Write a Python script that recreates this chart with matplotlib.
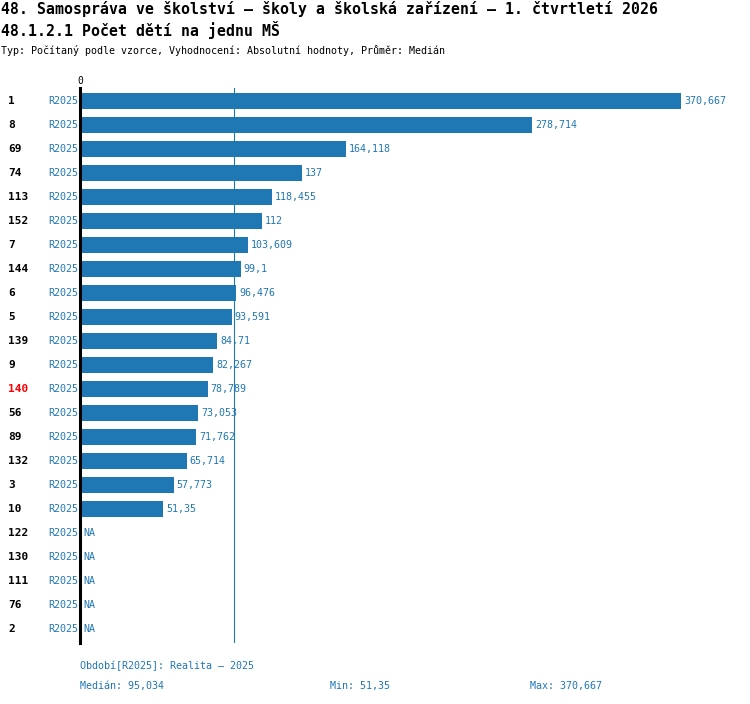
import numpy as np
import matplotlib
matplotlib.use("Agg")
import matplotlib.pyplot as plt
import matplotlib.transforms as mtransforms

ids = ["1", "8", "69", "74", "113", "152", "7", "144", "6", "5", "139", "9", "140",
       "56", "89", "132", "3", "10", "122", "130", "111", "76", "2"]
values = [370.667, 278.714, 164.118, 137, 118.455, 112, 103.609, 99.1, 96.476, 93.591,
          84.71, 82.267, 78.789, 73.053, 71.762, 65.714, 57.773, 51.35,
          None, None, None, None, None]
period = "R2025"
highlight_id = "140"

title1 = "48. Samospráva ve školství – školy a školská zařízení – 1. čtvrtletí 2026"
title2 = "48.1.2.1 Počet dětí na jednu MŠ"
subtitle = "Typ: Počítaný podle vzorce, Vyhodnocení: Absolutní hodnoty, Průměr: Medián"
footer_period = "Období[R2025]: Realita – 2025"

BLUE = "#1f77b4"
FONT = "DejaVu Sans Mono"
W, H = 750, 704

def fmt(v):
    s = f"{v:.3f}".rstrip("0").rstrip(".")
    return s.replace(".", ",")

valid = np.array([v for v in values if v is not None])
median = float(np.median(valid))
vmin = float(valid.min())
vmax = float(valid.max())

fig = plt.figure(figsize=(W / 100, H / 100), dpi=100)
ax_left, ax_right, ax_top, ax_bottom = 80, 730, 88, 643
ax = fig.add_axes([ax_left / W, 1 - ax_bottom / H, (ax_right - ax_left) / W, (ax_bottom - ax_top) / H])

px_per_unit = (681 - 80) / vmax
ax.set_xlim(0, (ax_right - ax_left) / px_per_unit)
row_px = 24
top_off = (101 - ax_top) / row_px
ax.set_ylim(-top_off + (ax_bottom - ax_top) / row_px, -top_off)

n = len(ids)
for i, v in enumerate(values):
    if v is not None:
        ax.barh(i, v, height=16 / row_px, color=BLUE, zorder=2)
        ax.text(v + 3 / px_per_unit, i, fmt(v), color=BLUE, fontsize=7.2,
                family=FONT, va="center", ha="left")
    else:
        ax.text(3 / px_per_unit, i, "NA", color=BLUE, fontsize=7.2,
                family=FONT, va="center", ha="left")

ax.axvline(median, color=BLUE, lw=0.8, zorder=1)

for s in ["top", "right", "bottom"]:
    ax.spines[s].set_visible(False)
ax.spines["left"].set_linewidth(2.2)
ax.spines["left"].set_color("black")
ax.set_xticks([])
ax.set_yticks([])
ax.patch.set_alpha(0)

tr = mtransforms.blended_transform_factory(fig.transFigure, ax.transData)
for i, lab in enumerate(ids):
    col = "red" if lab == highlight_id else "black"
    ax.text(8 / W, i, lab, transform=tr, color=col, fontsize=8, fontweight="bold",
            family=FONT, va="center", ha="left")
    ax.text(78 / W, i, period, transform=tr, color=BLUE, fontsize=7.2,
            family=FONT, va="center", ha="right")

def ftext(x, y, s, **kw):
    fig.text(x / W, 1 - y / H, s, family=FONT, **kw)

ftext(80, 81, "0", fontsize=7, color="black", ha="center", va="center")
ftext(1, 9, title1, fontsize=10.7, fontweight="bold", color="black", va="center", ha="left")
ftext(1, 30, title2, fontsize=10.7, fontweight="bold", color="black", va="center", ha="left")
ftext(1, 50, subtitle, fontsize=7.2, color="black", va="center", ha="left")
ftext(80, 666, footer_period, fontsize=7.2, color=BLUE, va="center", ha="left")
ftext(80, 686, "Medián: " + fmt(median), fontsize=7.2, color=BLUE, va="center", ha="left")
ftext(330, 686, "Min: " + fmt(vmin), fontsize=7.2, color=BLUE, va="center", ha="left")
ftext(530, 686, "Max: " + fmt(vmax), fontsize=7.2, color=BLUE, va="center", ha="left")

fig.savefig("out.png", dpi=100)
